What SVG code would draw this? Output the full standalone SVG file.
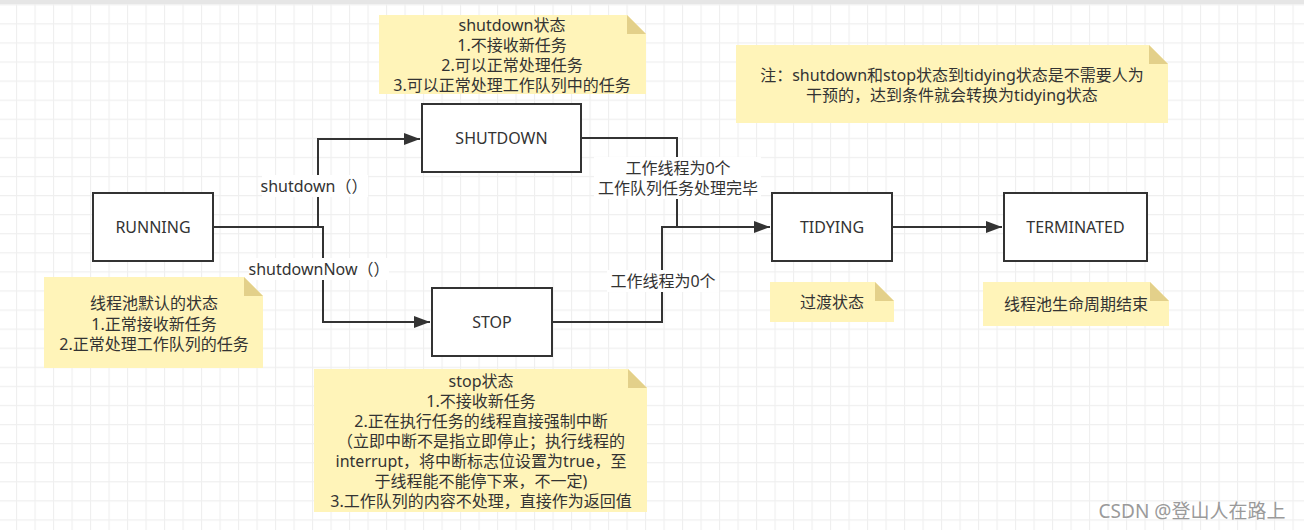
<svg xmlns="http://www.w3.org/2000/svg" width="1304" height="530" viewBox="0 0 1304 530">
  <defs>
    <pattern id="grid" x="16" y="4.2" width="18.5" height="19.08" patternUnits="userSpaceOnUse">
      <path d="M0.5 0 V19.08 M0 0.5 H18.5" fill="none" stroke="#efefef" stroke-width="1.2"/>
    </pattern>
    <marker id="arr" markerUnits="userSpaceOnUse" markerWidth="18" markerHeight="14" refX="16" refY="6" orient="auto">
      <path d="M0 0 L16 6 L0 12 Z" fill="#333"/>
    </marker>
    <style>
      text { font-family: "Noto Sans", "Noto Sans CJK SC", sans-serif; font-size: 16px; fill: #333; text-anchor: middle; dominant-baseline: central; }
      .box { fill: #fff; stroke: #333; stroke-width: 2; }
      .note { fill: #fff4b9; }
      .fold { fill: #e3d08a; }
      .edge { fill: none; stroke: #333; stroke-width: 2; }
      .lbl { fill: #fff; }
      .wm { font-size: 19px; fill: #9a9a9a; }
    </style>
  </defs>
  <rect width="1304" height="530" fill="#fff"/>
  <rect width="1304" height="530" fill="url(#grid)"/>
  <rect width="1304" height="4" fill="#e6e6e6"/>

  <g id="connectors">
    <path class="edge" d="M214 227 H318 V139 H420" marker-end="url(#arr)"/>
    <path class="edge" d="M214 227 H323 V322 H430" marker-end="url(#arr)"/>
    <path class="edge" d="M582 138 H677 V227 H770" marker-end="url(#arr)"/>
    <path class="edge" d="M553 322 H662 V227 H700"/>
    <path class="edge" d="M892 227 H1002" marker-end="url(#arr)"/>
    <rect class="lbl" x="262" y="175" width="106" height="22"/>
    <text x="314" y="186">shutdown（）</text>
    <rect class="lbl" x="249" y="258" width="140" height="22"/>
    <text x="319" y="269">shutdownNow（）</text>
    <rect class="lbl" x="594" y="157" width="167" height="42"/>
    <text x="678" y="168">工作线程为0个</text>
    <text x="678" y="188">工作队列任务处理完毕</text>
    <rect class="lbl" x="607" y="270" width="112" height="22"/>
    <text x="663" y="281">工作线程为0个</text>
  </g>

  <g id="running">
    <rect class="box" x="93" y="193" width="120" height="68"/>
    <text x="153" y="227">RUNNING</text>
  </g>
  <g id="shutdown">
    <rect class="box" x="422" y="104" width="159" height="68"/>
    <text x="501.5" y="138">SHUTDOWN</text>
  </g>
  <g id="stop">
    <rect class="box" x="432" y="288" width="120" height="68"/>
    <text x="492" y="322">STOP</text>
  </g>
  <g id="tidying">
    <rect class="box" x="772" y="193" width="120" height="68"/>
    <text x="832" y="227">TIDYING</text>
  </g>
  <g id="terminated">
    <rect class="box" x="1004" y="193" width="143" height="68"/>
    <text x="1075.5" y="227">TERMINATED</text>
  </g>

  <g id="note-shutdown">
    <path class="note" d="M379 15 H627 L646 34 V94 H379 Z"/>
    <path class="fold" d="M627 15 V34 H646 Z"/>
    <text x="512" y="24.5">shutdown状态</text>
    <text x="512" y="44.5">1.不接收新任务</text>
    <text x="512" y="64.5">2.可以正常处理任务</text>
    <text x="512" y="84.5">3.可以正常处理工作队列中的任务</text>
  </g>
  <g id="note-tip">
    <path class="note" d="M736 45 H1149 L1168 64 V123 H736 Z"/>
    <path class="fold" d="M1149 45 V64 H1168 Z"/>
    <text x="952" y="74.5">注：shutdown和stop状态到tidying状态是不需要人为</text>
    <text x="952" y="94.5">干预的，达到条件就会转换为tidying状态</text>
  </g>
  <g id="note-running">
    <path class="note" d="M44 277 H244 L263 296 V368 H44 Z"/>
    <path class="fold" d="M244 277 V296 H263 Z"/>
    <text x="154" y="303">线程池默认的状态</text>
    <text x="154" y="324">1.正常接收新任务</text>
    <text x="154" y="344">2.正常处理工作队列的任务</text>
  </g>
  <g id="note-stop">
    <path class="note" d="M314 369 H628 L647 388 V512 H314 Z"/>
    <path class="fold" d="M628 369 V388 H647 Z"/>
    <text x="481" y="381">stop状态</text>
    <text x="481" y="401">1.不接收新任务</text>
    <text x="481" y="421">2.正在执行任务的线程直接强制中断</text>
    <text x="481" y="441">（立即中断不是指立即停止；执行线程的</text>
    <text x="481" y="461">interrupt，将中断标志位设置为true，至</text>
    <text x="481" y="481">于线程能不能停下来，不一定)</text>
    <text x="481" y="501">3.工作队列的内容不处理，直接作为返回值</text>
  </g>
  <g id="note-tidying">
    <path class="note" d="M770 282 H875 L894 301 V322 H770 Z"/>
    <path class="fold" d="M875 282 V301 H894 Z"/>
    <text x="832" y="302">过渡状态</text>
  </g>
  <g id="note-terminated">
    <path class="note" d="M983 282 H1150 L1169 301 V326 H983 Z"/>
    <path class="fold" d="M1150 282 V301 H1169 Z"/>
    <text x="1076" y="304">线程池生命周期结束</text>
  </g>

  <text class="wm" x="1192" y="511">CSDN @登山人在路上</text>
</svg>
